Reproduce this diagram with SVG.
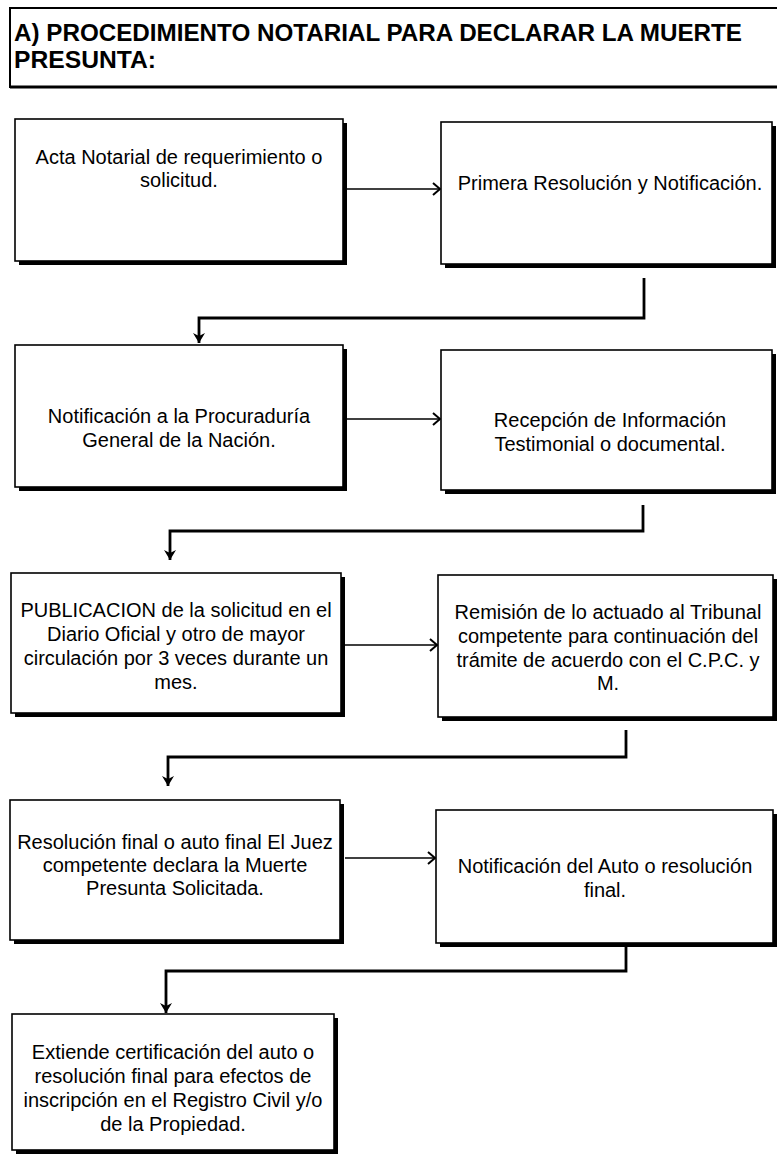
<svg xmlns="http://www.w3.org/2000/svg" width="777" height="1158" viewBox="0 0 777 1158">
<defs>
<style>
.box{fill:#fff;stroke:#000;stroke-width:1.6}
.sh{fill:#000}
.t{font-family:"Liberation Sans",Arial,sans-serif;font-size:20px;fill:#000;text-anchor:middle}
.title{font-family:"Liberation Sans",Arial,sans-serif;font-size:24px;font-weight:bold;fill:#000}
.h{fill:none;stroke:#000;stroke-width:1.6}
.e{fill:none;stroke:#000;stroke-width:2.8}
</style>
<marker id="ah" markerUnits="userSpaceOnUse" markerWidth="12" markerHeight="14" refX="9" refY="7" orient="auto">
<path d="M2,1 L9,7 L2,13" fill="none" stroke="#000" stroke-width="2"/>
</marker>
<marker id="ad" markerUnits="userSpaceOnUse" markerWidth="14" markerHeight="14" refX="10" refY="6" orient="auto">
<path d="M0,0 L10,6 L0,12 L3,6 Z" fill="#000"/>
</marker>
</defs>
<rect width="777" height="1158" fill="#fff"/>

<g id="title">
<rect x="10" y="8" width="790" height="79" fill="#fff" stroke="#000" stroke-width="2"/>
<line x1="10" y1="87" x2="777" y2="87" stroke="#000" stroke-width="3"/>
<text class="title" x="14" y="41" textLength="728" lengthAdjust="spacingAndGlyphs">A) PROCEDIMIENTO NOTARIAL PARA DECLARAR LA MUERTE</text>
<text class="title" x="14" y="68" textLength="142" lengthAdjust="spacingAndGlyphs">PRESUNTA:</text>
</g>

<g id="connectors">
<line class="h" x1="347" y1="189" x2="440" y2="189" marker-end="url(#ah)"/>
<path class="e" d="M644,278 V318 H199 V343" marker-end="url(#ad)"/>
<line class="h" x1="347" y1="419" x2="440" y2="419" marker-end="url(#ah)"/>
<path class="e" d="M643,505 V531 H170 V560" marker-end="url(#ad)"/>
<line class="h" x1="345" y1="645" x2="437" y2="645" marker-end="url(#ah)"/>
<path class="e" d="M626,730 V757 H168 V786" marker-end="url(#ad)"/>
<line class="h" x1="345" y1="858" x2="435" y2="858" marker-end="url(#ah)"/>
<path class="e" d="M626,946 V971 H166 V1013" marker-end="url(#ad)"/>
</g>

<g id="n1">
<rect class="sh" x="19" y="123" width="328" height="142"/>
<rect class="box" x="15" y="119" width="328" height="142"/>
<text class="t" x="179" y="164">Acta Notarial de requerimiento o</text>
<text class="t" x="179" y="187">solicitud.</text>
</g>

<g id="n2">
<rect class="sh" x="445" y="126" width="331" height="142"/>
<rect class="box" x="441" y="122" width="331" height="142"/>
<text class="t" x="610" y="190">Primera Resolución y Notificación.</text>
</g>

<g id="n3">
<rect class="sh" x="19" y="349" width="328" height="142"/>
<rect class="box" x="15" y="345" width="328" height="142"/>
<text class="t" x="179" y="423">Notificación a la Procuraduría</text>
<text class="t" x="179" y="447">General de la Nación.</text>
</g>

<g id="n4">
<rect class="sh" x="445" y="354" width="331" height="140"/>
<rect class="box" x="441" y="350" width="331" height="140"/>
<text class="t" x="610" y="427">Recepción de Información</text>
<text class="t" x="610" y="451">Testimonial o documental.</text>
</g>

<g id="n5">
<rect class="sh" x="15" y="577" width="330" height="140"/>
<rect class="box" x="11" y="573" width="330" height="140"/>
<text class="t" x="176" y="617">PUBLICACION de la solicitud en el</text>
<text class="t" x="176" y="641">Diario Oficial y otro de mayor</text>
<text class="t" x="176" y="665">circulación por 3 veces durante un</text>
<text class="t" x="176" y="689">mes.</text>
</g>

<g id="n6">
<rect class="sh" x="442" y="579" width="335" height="142"/>
<rect class="box" x="438" y="575" width="335" height="142"/>
<text class="t" x="608" y="619">Remisión de lo actuado al Tribunal</text>
<text class="t" x="608" y="643">competente para continuación del</text>
<text class="t" x="608" y="667">trámite de acuerdo con el C.P.C. y</text>
<text class="t" x="608" y="690">M.</text>
</g>

<g id="n7">
<rect class="sh" x="14" y="804" width="330" height="140"/>
<rect class="box" x="10" y="800" width="330" height="140"/>
<text class="t" x="175" y="849">Resolución final o auto final El Juez</text>
<text class="t" x="175" y="872">competente declara la Muerte</text>
<text class="t" x="175" y="895">Presunta Solicitada.</text>
</g>

<g id="n8">
<rect class="sh" x="440" y="814" width="337" height="133"/>
<rect class="box" x="436" y="810" width="337" height="133"/>
<text class="t" x="605" y="873">Notificación del Auto o resolución</text>
<text class="t" x="605" y="897">final.</text>
</g>

<g id="n9">
<rect class="sh" x="16" y="1018" width="322" height="136"/>
<rect class="box" x="12" y="1014" width="322" height="136"/>
<text class="t" x="173" y="1059">Extiende certificación del auto o</text>
<text class="t" x="173" y="1083">resolución final para efectos de</text>
<text class="t" x="173" y="1107">inscripción en el Registro Civil y/o</text>
<text class="t" x="173" y="1131">de la Propiedad.</text>
</g>
</svg>
